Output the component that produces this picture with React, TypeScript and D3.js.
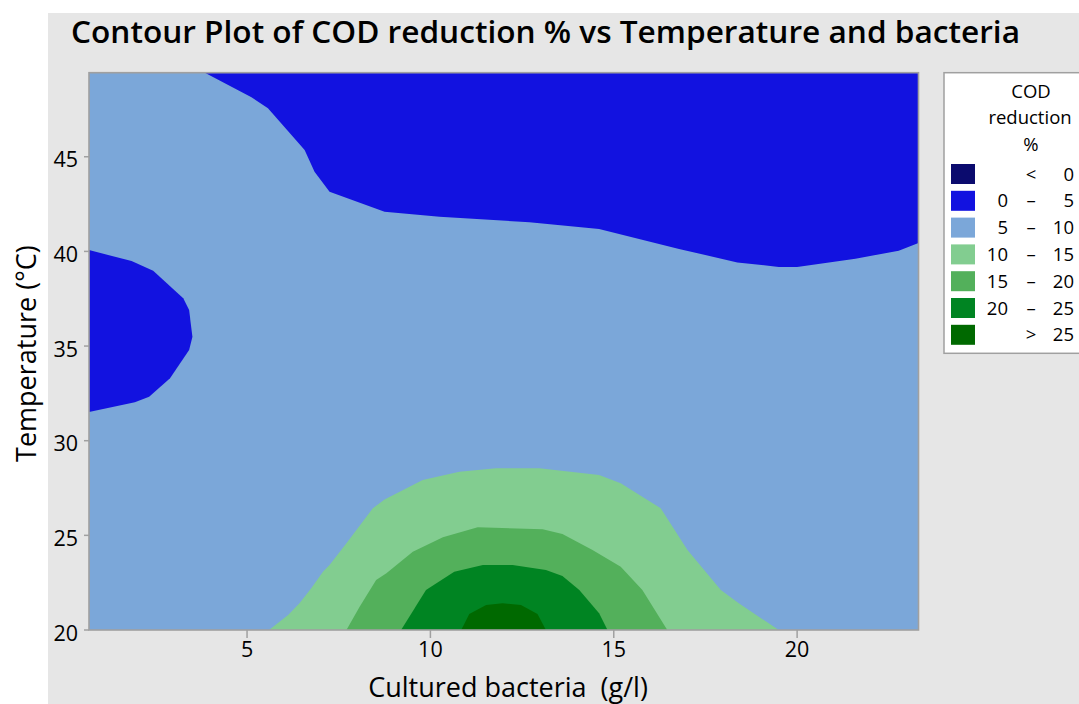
import React from "react";
import * as d3 from "d3";

const W = 1079;
const H = 704;

const xDomain: [number, number] = [0.69, 23.31];
const yDomain: [number, number] = [20, 49.44];
const xTicks = [5, 10, 15, 20];
const yTicks = [20, 25, 30, 35, 40, 45];

const levelColors = ["#0b0b6e", "#1212e0", "#7ba7d9", "#82cd90", "#53b05b", "#008422", "#006900"];
const legendLow = ["", "0", "5", "10", "15", "20", ""];
const legendMid = ["<", "–", "–", "–", "–", "–", ">"];
const legendHigh = ["0", "5", "10", "15", "20", "25", "25"];

// Contour region boundaries [bacteria g/l, temperature °C]
const band0to5Top: [number, number][] = [
  [3.85, 49.44], [5.12, 48.14], [5.57, 47.56], [6.57, 45.36], [6.84, 44.21], [7.25, 43.15],
  [8.75, 42.1], [10.25, 41.83], [12.7, 41.54], [14.6, 41.18], [16.78, 40.13], [18.37, 39.42],
  [19.5, 39.18], [20.0, 39.18], [21.59, 39.61], [22.77, 40.04], [23.31, 40.44], [23.31, 49.44],
];
const band0to5Left: [number, number][] = [
  [0.69, 40.07], [1.85, 39.49], [2.44, 38.98], [3.26, 37.52], [3.42, 36.9], [3.51, 35.49],
  [3.42, 34.79], [2.9, 33.3], [2.33, 32.32], [1.94, 32.03], [0.69, 31.52],
];
const band10to15: [number, number][] = [
  [5.6, 20], [6.12, 20.79], [6.43, 21.41], [6.75, 22.2], [7.07, 23.08], [7.25, 23.43],
  [7.71, 24.58], [8.43, 26.43], [8.75, 26.9], [9.79, 27.92], [10.79, 28.36], [11.79, 28.54],
  [12.97, 28.54], [14.6, 28.19], [15.19, 27.75], [16.28, 26.43], [17.01, 24.23], [17.92, 22.11],
  [18.41, 21.41], [19.5, 20],
];
const band15to20: [number, number][] = [
  [7.71, 20], [8.07, 21.23], [8.52, 22.64], [8.8, 23.0], [9.52, 24.14], [10.34, 24.9],
  [11.29, 25.43], [13.06, 25.32], [13.6, 25.07], [14.42, 24.23], [15.19, 23.34], [15.78, 22.11],
  [16.46, 20],
];
const band20to25: [number, number][] = [
  [9.2, 20], [9.88, 22.11], [10.65, 23.08], [11.43, 23.43], [12.24, 23.43], [13.15, 23.17],
  [13.6, 22.85], [14.06, 22.11], [14.6, 20.88], [14.83, 20],
];
const bandAbove25: [number, number][] = [
  [10.84, 20], [11.06, 20.85], [11.52, 21.32], [11.97, 21.41], [12.47, 21.32], [12.92, 20.85],
  [13.15, 20],
];

const regions: { pts: [number, number][]; level: number }[] = [
  { pts: band0to5Top, level: 1 },
  { pts: band0to5Left, level: 1 },
  { pts: band10to15, level: 3 },
  { pts: band15to20, level: 4 },
  { pts: band20to25, level: 5 },
  { pts: bandAbove25, level: 6 },
];

const plot = { left: 89, right: 918.5, top: 72.7, bottom: 630 };

export default function App() {
  const x = d3.scaleLinear().domain(xDomain).range([plot.left, plot.right]);
  const y = d3.scaleLinear().domain(yDomain).range([plot.bottom, plot.top]);
  const line = d3
    .line<[number, number]>()
    .x((d) => x(d[0]))
    .y((d) => y(d[1]))
    .curve(d3.curveLinear);

  const font = "'Open Sans', 'Noto Sans', sans-serif";
  const axisGray = "#a0a0a0";

  return (
    <svg
      width={W}
      height={H}
      style={{ position: "absolute", left: 0, top: 0, display: "block" }}
      fontFamily={font}
    >
      <rect x={0} y={0} width={W} height={H} fill="#ffffff" />
      <rect x={48} y={13} width={W - 48} height={H - 13} fill="#e6e6e6" />

      <text x={71} y={43} fontSize={31} fontWeight={600} fill="#000" textLength={949} lengthAdjust="spacingAndGlyphs">
        Contour Plot of COD reduction % vs Temperature and bacteria
      </text>

      <defs>
        <clipPath id="plotClip">
          <rect x={plot.left} y={plot.top} width={plot.right - plot.left} height={plot.bottom - plot.top} />
        </clipPath>
      </defs>

      <g clipPath="url(#plotClip)">
        <rect
          x={x(xDomain[0])}
          y={y(yDomain[1])}
          width={x(xDomain[1]) - x(xDomain[0])}
          height={y(yDomain[0]) - y(yDomain[1])}
          fill={levelColors[2]}
        />
        {regions.map((r, i) => (
          <path key={i} d={line(r.pts) + "Z"} fill={levelColors[r.level]} />
        ))}
      </g>

      <rect
        x={plot.left}
        y={plot.top}
        width={plot.right - plot.left}
        height={plot.bottom - plot.top}
        fill="none"
        stroke={axisGray}
        strokeWidth={1.6}
      />

      {xTicks.map((t) => (
        <g key={"x" + t}>
          <line x1={x(t)} x2={x(t)} y1={plot.bottom} y2={plot.bottom + 8} stroke={axisGray} strokeWidth={1.5} />
          <text x={x(t)} y={657} fontSize={21.5} textAnchor="middle" fill="#000">
            {t}
          </text>
        </g>
      ))}
      {yTicks.map((t) => (
        <g key={"y" + t}>
          <line x1={plot.left - 5} x2={plot.left} y1={y(t)} y2={y(t)} stroke={axisGray} strokeWidth={1.5} />
          <text x={78} y={y(t) + 5} fontSize={21.5} textAnchor="end" dominantBaseline="middle" fill="#000">
            {t}
          </text>
        </g>
      ))}

      <text x={508} y={697} fontSize={27} textAnchor="middle" fill="#000" xmlSpace="preserve">
        {"Cultured bacteria  (g/l)"}
      </text>
      <text
        transform={`translate(36, ${y(34.6)}) rotate(-90)`}
        fontSize={27}
        textAnchor="middle"
        fill="#000"
      >
        Temperature (°C)
      </text>

      <g>
        <rect x={944} y={72.7} width={150} height={280.6} fill="#ffffff" stroke={axisGray} strokeWidth={1.5} />
        <text x={1031} y={98} fontSize={18.5} textAnchor="middle" fill="#000">COD</text>
        <text x={1030} y={124} fontSize={18.5} textAnchor="middle" fill="#000">reduction</text>
        <text x={1031} y={151} fontSize={18.5} textAnchor="middle" fill="#000">%</text>
        {levelColors.map((c, i) => {
          const cy = 174 + i * 26.8;
          return (
            <g key={"l" + i}>
              <rect x={951} y={cy - 10} width={24} height={20} fill={c} />
              <text x={1008} y={cy + 6.5} fontSize={18.5} textAnchor="end" fill="#000">{legendLow[i]}</text>
              <text x={1031} y={cy + 6.5} fontSize={18.5} textAnchor="middle" fill="#000">{legendMid[i]}</text>
              <text x={1074} y={cy + 6.5} fontSize={18.5} textAnchor="end" fill="#000">{legendHigh[i]}</text>
            </g>
          );
        })}
      </g>
    </svg>
  );
}
